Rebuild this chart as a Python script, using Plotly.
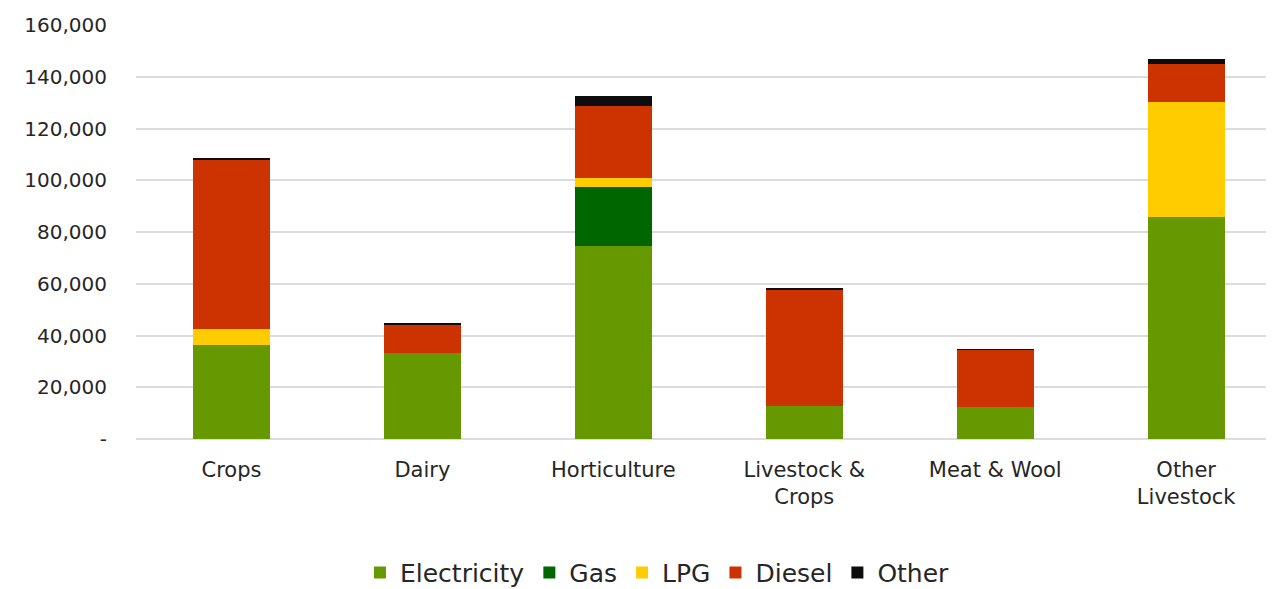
import plotly.graph_objects as go

categories = ["Crops", "Dairy", "Horticulture", "Livestock &<br>Crops", "Meat & Wool", "Other<br>Livestock"]
electricity = [36300, 33100, 74700, 12900, 12500, 85900]
gas = [0, 0, 22600, 0, 0, 0]
lpg = [6200, 0, 3700, 0, 0, 44300]
diesel = [65600, 11000, 27700, 44700, 21900, 14700]
other = [600, 900, 3900, 400, 200, 1800]

series = [
    ("Electricity", electricity, "#669900"),
    ("Gas", gas, "#006600"),
    ("LPG", lpg, "#FFCC00"),
    ("Diesel", diesel, "#CC3300"),
    ("Other", other, "#0D0D0D"),
]

tickvals = [0, 20000, 40000, 60000, 80000, 100000, 120000, 140000, 160000]
ticktext = ["-", "20,000", "40,000", "60,000", "80,000", "100,000", "120,000", "140,000", "160,000"]

fig = go.Figure()
for name, vals, color in series:
    fig.add_trace(go.Bar(x=categories, y=vals, name=name, marker=dict(color=color, line=dict(width=0)), width=0.403))

font_family = "DejaVu Sans, Verdana, sans-serif"
fig.update_layout(
    barmode="stack",
    width=1266, height=581,
    margin=dict(l=128, r=0, t=17, b=150),
    paper_bgcolor="white", plot_bgcolor="white",
    font=dict(family=font_family, size=20, color="#262626"),
    xaxis=dict(range=[-0.5, 5.46], showgrid=False, showline=False, ticks="", automargin=False,
               tickfont=dict(size=21), ticklabelstandoff=16),
    yaxis=dict(range=[0, 160000], tickvals=tickvals, ticktext=ticktext, showgrid=True, automargin=False,
               gridcolor="#DCDCDC", gridwidth=1.5, zeroline=True, zerolinecolor="#DCDCDC", zerolinewidth=1.5,
               showline=False, ticks="", tickfont=dict(size=20), ticklabelstandoff=28),
    legend=dict(orientation="h", x=0.513, xref="container", xanchor="center", y=0.028, yref="container",
                yanchor="middle", font=dict(size=25), traceorder="normal", itemwidth=30),
    showlegend=True,
)
fig.write_html("out.html")
